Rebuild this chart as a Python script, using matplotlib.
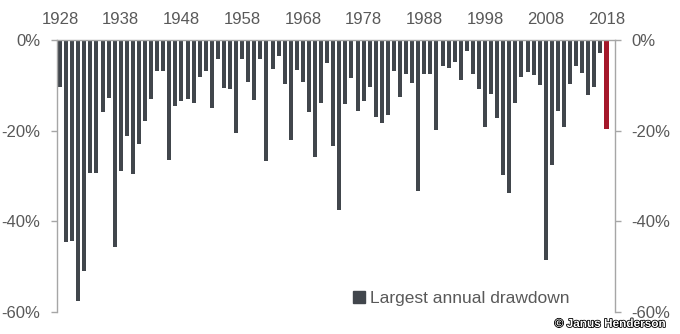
import matplotlib
matplotlib.use("Agg")
import matplotlib.pyplot as plt
import matplotlib.patheffects as pe
import numpy as np

plt.rcParams['font.family'] = ['Liberation Sans', 'DejaVu Sans']

years = list(range(1928, 2019))
drawdown = [
    -10.3, -44.5, -44.3, -57.5, -50.9, -29.3, -29.3, -15.9, -12.7, -45.6,
    -28.8, -21.2, -29.6, -22.9, -17.8, -13.1, -6.9, -6.9, -26.5, -14.6,
    -13.5, -13.1, -14.0, -8.2, -6.8, -14.9, -4.3, -10.5, -10.8, -20.6,
    -4.3, -9.3, -13.3, -4.3, -26.8, -6.5, -3.5, -9.6, -22.1, -6.7,
    -9.3, -15.9, -25.9, -14.0, -5.1, -23.3, -37.6, -14.1, -8.3, -15.6,
    -13.5, -10.3, -16.9, -18.2, -16.5, -6.8, -12.6, -7.4, -9.4, -33.4,
    -7.4, -7.4, -19.9, -5.7, -6.2, -4.9, -8.8, -2.4, -7.4, -10.7,
    -19.3, -12.0, -17.1, -29.7, -33.7, -13.8, -8.1, -7.1, -7.7, -10.0,
    -48.6, -27.6, -15.7, -19.3, -9.8, -5.7, -7.3, -12.2, -10.4, -2.8,
    -19.7,
]
xtick_years = [1928, 1938, 1948, 1958, 1968, 1978, 1988, 1998, 2008, 2018]
ytick_vals = [0, -20, -40, -60]
ytick_labels = ["0%", "-20%", "-40%", "-60%"]
legend_label = "Largest annual drawdown"

bar_color = "#41464c"
hl_color = "#a5182b"
text_color = "#595959"
spine_color = "#a6a6a6"

colors = [hl_color if y == 2018 else bar_color for y in years]

fig = plt.figure(figsize=(6.8, 3.34), dpi=100)
ax = fig.add_axes([57 / 680, 22 / 334, 558 / 680, 272 / 334])

ax.bar(years, drawdown, width=0.66, color=colors, label=legend_label, zorder=2)

ax.set_xlim(1927.5, 2019.4)
ax.set_ylim(-60, 0)

ax.xaxis.tick_top()
ax.set_xticks(xtick_years)
ax.set_xticklabels([str(y) for y in xtick_years])
ax.tick_params(axis='x', length=0, pad=9, labelsize=12, labelcolor=text_color)

ax.set_yticks(ytick_vals)
ax.set_yticklabels(ytick_labels)
ax.tick_params(axis='y', which='both', left=True, right=True,
               labelleft=True, labelright=True, direction='out',
               length=4, width=1, color=spine_color, pad=8,
               labelsize=12, labelcolor=text_color)

for side in ['left', 'right', 'top']:
    ax.spines[side].set_color(spine_color)
    ax.spines[side].set_linewidth(1)
ax.spines['bottom'].set_visible(False)

leg = ax.legend(loc='lower right', bbox_to_anchor=(0.947, -0.035), frameon=False,
                fontsize=12.5, handlelength=0.7, handleheight=0.7,
                handletextpad=0.3, labelcolor=text_color)
for h in leg.legend_handles:
    h.set_color(bar_color)

fig.text(0.978, 0.012, "© Janus Henderson", ha='right', va='bottom',
         fontsize=8.5, color='white', fontweight='bold',
         path_effects=[pe.withStroke(linewidth=1.2, foreground='black')])

fig.savefig("out.png", dpi=100)
